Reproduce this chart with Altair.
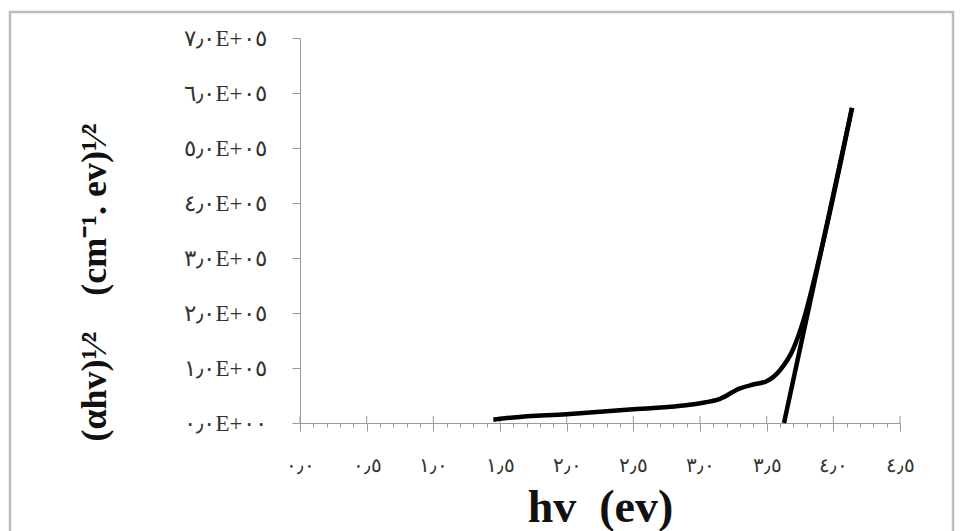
import altair as alt
import pandas as pd
import json

# ---- data ----
curve_x = [1.45, 1.6, 2.0, 2.5, 3.0, 3.15, 3.3, 3.4, 3.5, 3.6, 3.7, 3.77, 3.9, 4.14]
curve_y = [6000, 10000, 16000, 25000, 36000, 44000, 63000, 70000, 76000, 96000,
           135000, 182000, 305000, 573000]
tangent_x = [3.63, 4.14]
tangent_y = [0, 573000]

x_tick_labels = ["٠٫٠", "٠٫٥", "١٫٠", "١٫٥", "٢٫٠", "٢٫٥", "٣٫٠", "٣٫٥", "٤٫٠", "٤٫٥"]
x_major_values = [0.0, 0.5, 1.0, 1.5, 2.0, 2.5, 3.0, 3.5, 4.0, 4.5]
y_tick_labels = ["٠٫٠E+٠٠", "١٫٠E+٠٥", "٢٫٠E+٠٥", "٣٫٠E+٠٥",
                 "٤٫٠E+٠٥", "٥٫٠E+٠٥", "٦٫٠E+٠٥", "٧٫٠E+٠٥"]
y_tick_values = [0, 100000, 200000, 300000, 400000, 500000, 600000, 700000]
x_tick_values = [round(i * 0.1, 1) for i in range(46)]

NB = "\u00a0"
x_title = "hv" + NB * 2 + "(ev)"
y_title = "(αhv)¹⁄²" + NB * 4 + "(cm⁻¹." + NB + "ev)¹⁄²"

curve_df = pd.DataFrame({"x": curve_x, "y": curve_y})
tangent_df = pd.DataFrame({"x": tangent_x, "y": tangent_y})
major_df = pd.DataFrame({"x": x_major_values})

is_major = "abs(datum.value*2 - round(datum.value*2)) < 0.001"
x_label_expr = f"({is_major}) ? {json.dumps(x_tick_labels, ensure_ascii=False)}[round(datum.value*2)] : ''"
y_label_expr = f"{json.dumps(y_tick_labels, ensure_ascii=False)}[round(datum.value/100000)]"

x_scale = alt.Scale(domain=[0, 4.5], nice=False, zero=False)
y_scale = alt.Scale(domain=[0, 700000], nice=False)

x_axis = alt.Axis(
    values=x_tick_values,
    tickCount=len(x_tick_values),
    labelExpr=x_label_expr,
    title=x_title,
    titleFont="Liberation Serif",
    titleFontSize=46,
    titleFontWeight="bold",
    titleColor="#111111",
    titleY=98,
    titleBaseline="alphabetic",
    labelFont="Liberation Serif",
    labelFontSize=20,
    labelColor="#333333",
    labelPadding=24,
    labelOverlap=False,
    labelFlush=False,
    domainColor="#9a9a9a",
    tickColor="#9a9a9a",
    tickSize={"condition": {"test": is_major, "value": 8}, "value": 4},
    tickWidth=1,
    grid=False,
)

y_axis = alt.Axis(
    values=y_tick_values,
    tickCount=len(y_tick_values),
    labelExpr=y_label_expr,
    title=y_title,
    titleFont="Liberation Serif",
    titleFontSize=36,
    titleFontWeight="bold",
    titleColor="#111111",
    titleX=-206,
    titleY=244,
    titleAngle=270,
    titleAlign="center",
    titleBaseline="middle",
    labelFont="Liberation Serif",
    labelFontSize=23,
    labelColor="#333333",
    labelPadding=26,
    labelBaseline="middle",
    labelOverlap=False,
    domainColor="#9a9a9a",
    tickColor="#9a9a9a",
    tickSize=8,
    grid=False,
)

curve = alt.Chart(curve_df).mark_line(color="black", strokeWidth=4.5, interpolate="monotone").encode(
    x=alt.X("x:Q", scale=x_scale, axis=x_axis),
    y=alt.Y("y:Q", scale=y_scale, axis=y_axis),
)

tangent = alt.Chart(tangent_df).mark_line(color="black", strokeWidth=4.5).encode(
    x=alt.X("x:Q", scale=x_scale),
    y=alt.Y("y:Q", scale=y_scale),
)

# major ticks also poke above the x axis, as in the reference
major_up = alt.Chart(major_df).mark_rule(color="#9a9a9a", strokeWidth=1).encode(
    x=alt.X("x:Q", scale=x_scale),
    y=alt.value(385),
    y2=alt.value(378),
)

frame = alt.Chart(alt.Data(values=[{"f": 1}])).mark_rect(
    fill=None, stroke="#bcbcbc", strokeWidth=2.5
).encode(
    x=alt.value(-290), x2=alt.value(653), y=alt.value(-26), y2=alt.value(520)
)

chart = alt.layer(frame, major_up, curve, tangent).properties(
    width=600,
    height=385,
    padding={"left": 300, "top": 38, "right": 60, "bottom": 108},
    autosize=alt.AutoSizeParams(type="none"),
    background="white",
).configure_view(stroke=None)

chart.save("out.html", embed_options={"renderer": "svg", "actions": False})
